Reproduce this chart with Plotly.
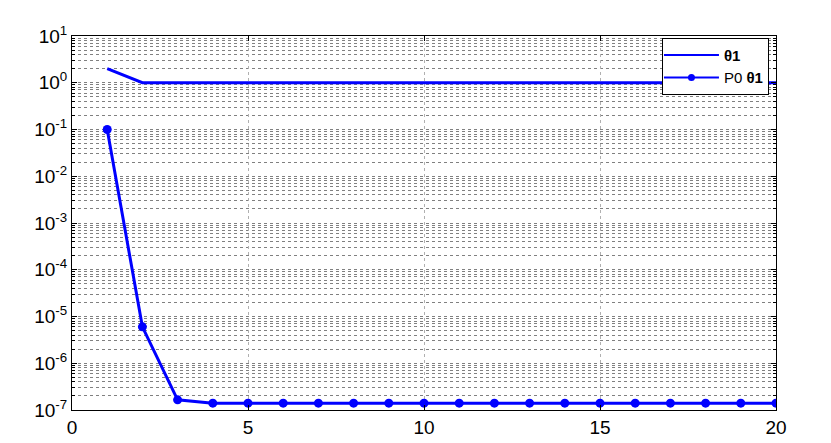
import plotly.graph_objects as go

# iterations
x_iter = list(range(1, 21))
# theta1 values
theta1 = [2.0] + [1.0] * 19
# P0 theta1 values
p0_theta1 = [0.1, 6e-6, 1.65e-7] + [1.4e-7] * 17

# y tick labels
y_exps = [1, 0, -1, -2, -3, -4, -5, -6, -7]
y_tickvals = [10.0 ** e for e in y_exps]
y_ticktext = ['10<sup>%d</sup>' % e for e in y_exps]

blue = '#0000ff'
fig = go.Figure()
fig.add_trace(go.Scatter(x=x_iter, y=theta1, mode='lines', showlegend=False,
                         line=dict(color=blue, width=3)))
fig.add_trace(go.Scatter(x=x_iter, y=p0_theta1, mode='lines+markers', showlegend=False,
                         line=dict(color=blue, width=3),
                         marker=dict(color=blue, size=9)))
# legend entries drawn thinner, like the matlab legend
fig.add_trace(go.Scatter(x=[None], y=[None], mode='lines', name='<b>θ1</b>',
                         line=dict(color=blue, width=2)))
fig.add_trace(go.Scatter(x=[None], y=[None], mode='lines+markers', name='P0 <b>θ1</b>',
                         line=dict(color=blue, width=2),
                         marker=dict(color=blue, size=7)))

# page has an 8px body offset, margins compensate for it
fig.update_layout(
    width=831, height=443,
    margin=dict(l=64, r=63, t=28, b=41, autoexpand=False),
    plot_bgcolor='white', paper_bgcolor='white',
    font=dict(family='Arial, Liberation Sans', size=19, color='black'),
    legend=dict(x=0.99, y=0.995, xanchor='right', yanchor='top',
                bordercolor='black', borderwidth=1, bgcolor='white',
                font=dict(family='Arial, Liberation Sans', size=15), tracegroupgap=0,
                itemwidth=55, indentation=-4),
    showlegend=True,
)
fig.update_xaxes(range=[0, 20], dtick=5, showline=True, linecolor='black', linewidth=1,
                 mirror='ticks', ticks='inside', ticklen=5, tickcolor='black',
                 showgrid=True, gridcolor='#b0b0b0', griddash='dot', gridwidth=1,
                 zeroline=False)
fig.update_yaxes(type='log', range=[-7, 1], tickvals=y_tickvals, ticktext=y_ticktext,
                 showline=True, linecolor='black', linewidth=1,
                 mirror='ticks', ticks='inside', ticklen=5, tickcolor='black',
                 showgrid=True, gridcolor='#808080', griddash='dot', gridwidth=1,
                 minor=dict(showgrid=True, gridcolor='#808080', griddash='dot',
                            dtick='D1', ticks='inside', ticklen=3, tickcolor='black'),
                 zeroline=False)

fig.write_html("out.html")
